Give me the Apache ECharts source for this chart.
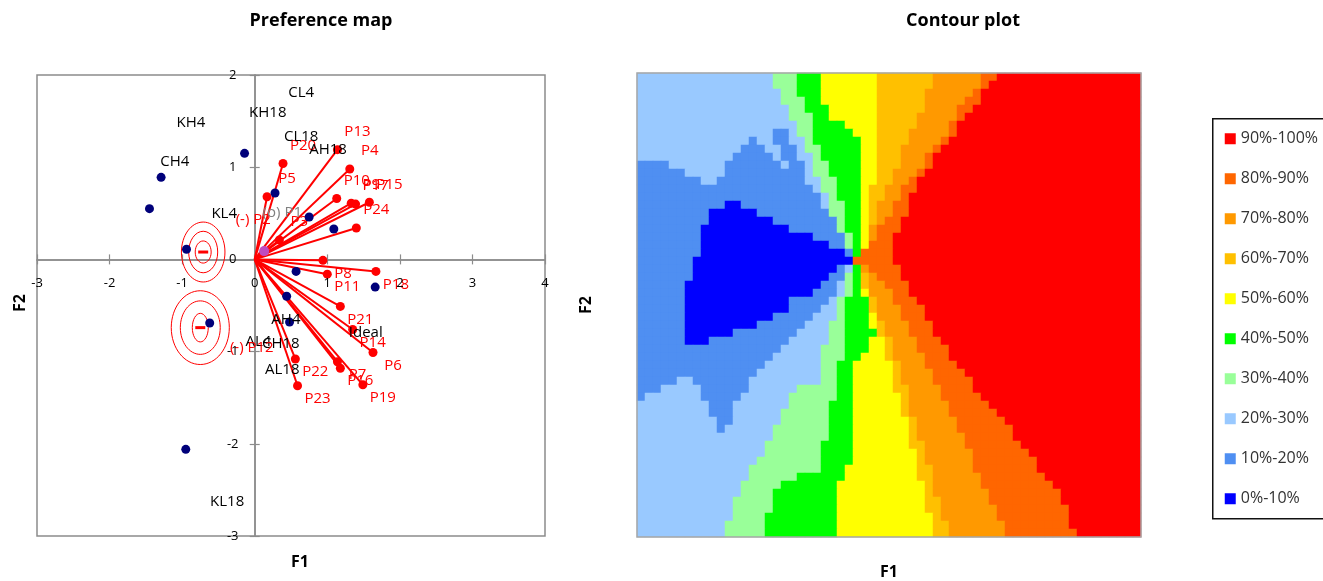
<!DOCTYPE html>
<html><head><meta charset="utf-8">
<script src="https://cdn.jsdelivr.net/npm/echarts@6/dist/echarts.min.js"></script>
<style>html,body{margin:0;padding:0;background:#fff}#c{width:1323px;height:581px}</style>
</head><body><div id="c"></div>
<script>
// ---------- Preference map data ----------
const prefNames = ['P13','P4','P20','P5','P10','P9','P17','P15','P24','P3','P8','P11','P18','P21','P14','P6','P22','P7','P16','P19','P23'];
const prefX = [1.14,1.31,0.39,0.17,1.13,1.33,1.39,1.58,1.40,0.34,0.94,1.00,1.67,1.18,1.35,1.63,0.56,1.14,1.18,1.49,0.59];
const prefY = [1.19,0.98,1.04,0.68,0.66,0.61,0.60,0.62,0.34,0.21,-0.01,-0.16,-0.13,-0.51,-0.76,-1.01,-1.08,-1.11,-1.18,-1.36,-1.37];

const prodX = [-0.14,-1.29,-1.45,-0.94,0.28,0.75,1.09,0.57,1.66,0.44,0.48,-0.62,-0.95];
const prodY = [1.15,0.89,0.55,0.11,0.72,0.46,0.33,-0.13,-0.30,-0.40,-0.68,-0.69,-2.06];

const prodLabels = ['KH4','CH4','KH18','CL4','CL18','AH18','KL4','AH4','AL4','CH18','AL18','KL18','Ideal'];
const prodLabelX = [-0.88,-1.10,0.18,0.64,0.64,1.01,-0.42,0.43,0.05,0.36,0.38,-0.38,1.53];
const prodLabelY = [1.48,1.06,1.59,1.81,1.33,1.19,0.49,-0.65,-0.89,-0.91,-1.20,-2.63,-0.80];

const saddleX = [0.13];
const saddleY = [0.09];

const specialLabels = ['(-) P2','(o) P1','(-) P12'];
const specialX = [-0.02,0.38,-0.04];
const specialY = [0.43,0.51,-0.96];

const minCenterX = [-0.71,-0.75];
const minCenterY = [0.08,-0.74];
const ringRx = [[0.30,0.20,0.11],[0.40,0.275,0.11]];
const ringRy = [[0.325,0.225,0.12],[0.40,0.29,0.155]];

const xTicks = [-3,-2,-1,0,1,2,3,4];
const yTicks = [-3,-2,-1,0,1,2];

// ---------- Contour plot data (class per cell, run-length encoded rows, top row first) ----------
const classLabels = ['0%-10%','10%-20%','20%-30%','30%-40%','40%-50%','50%-60%','60%-70%','70%-80%','80%-90%','90%-100%'];
const contourRows = [
'2:17,3:3,4:3,5:7,6:7,7:6,8:2,9:18',
'2:17,3:3,4:3,5:7,6:7,7:6,8:1,9:19',
'2:18,3:2,4:3,5:7,6:6,7:6,8:1,9:20',
'2:18,3:3,4:2,5:7,6:6,7:5,8:2,9:20',
'2:19,3:2,4:3,5:6,6:6,7:4,8:2,9:21',
'2:19,3:3,4:2,5:6,6:5,7:5,8:1,9:22',
'2:20,3:2,4:4,5:4,6:5,7:4,8:1,9:23',
'2:17,1:2,2:1,3:2,4:5,5:3,6:4,7:5,8:1,9:23',
'2:14,1:1,2:2,1:2,2:2,3:1,4:6,5:2,6:4,7:4,8:1,9:24',
'2:13,1:3,2:2,1:2,2:1,3:2,4:5,5:2,6:3,7:4,8:1,9:25',
'2:12,1:5,2:1,1:2,2:2,3:1,4:5,5:2,6:3,7:3,8:1,9:26',
'1:4,2:7,1:7,2:1,1:2,2:1,3:2,4:4,5:2,6:3,7:3,8:1,9:26',
'1:6,2:5,1:10,2:1,3:2,4:4,5:2,6:2,7:3,8:1,9:27',
'1:8,2:2,1:11,2:2,3:2,4:3,5:2,6:2,7:2,8:1,9:28',
'1:22,2:1,3:2,4:3,5:1,6:2,7:2,8:2,9:28',
'1:23,2:1,3:1,4:3,5:1,6:2,7:2,8:1,9:29',
'1:11,0:2,1:10,2:1,3:2,4:2,5:1,6:1,7:2,8:2,9:29',
'1:9,0:6,1:9,3:2,4:2,5:1,6:1,7:2,8:2,9:29',
'1:9,0:8,1:8,3:1,4:2,5:1,6:1,7:1,8:2,9:30',
'1:8,0:11,1:6,3:1,4:2,5:1,7:1,8:3,9:30',
'1:8,0:14,1:4,3:1,4:1,5:1,7:1,8:2,9:31',
'1:8,0:16,1:2,3:1,4:1,5:1,8:3,9:31',
'1:8,0:18,1:1,4:1,8:4,9:31',
'1:7,0:20,8:5,9:31',
'1:7,0:18,1:1,2:1,4:1,7:1,8:4,9:30',
'1:7,0:17,1:2,3:1,4:1,6:1,7:1,8:3,9:30',
'1:6,0:17,1:2,2:1,3:1,4:1,6:1,7:2,8:3,9:29',
'1:6,0:16,1:3,2:1,3:1,4:1,5:1,7:3,8:2,9:29',
'1:6,0:13,1:5,2:1,3:1,4:3,6:1,7:2,8:3,9:28',
'1:6,0:13,1:4,2:2,3:1,4:3,6:1,7:3,8:3,9:27',
'1:6,0:11,1:5,2:3,3:1,4:3,5:1,7:3,8:3,9:27',
'1:6,0:9,1:6,2:3,3:2,4:3,5:1,6:1,7:3,8:3,9:26',
'1:6,0:6,1:8,2:4,3:2,4:4,6:1,7:3,8:3,9:26',
'1:6,0:3,1:10,2:5,3:2,4:3,5:2,6:1,7:3,8:3,9:25',
'1:18,2:5,3:3,4:3,5:2,6:1,7:3,8:4,9:24',
'1:17,2:6,3:3,4:2,5:3,6:1,7:4,8:3,9:24',
'1:16,2:7,3:2,4:2,5:5,6:1,7:3,8:4,9:23',
'1:15,2:8,3:2,4:2,5:5,6:1,7:4,8:4,9:22',
'1:5,2:2,1:7,2:9,3:2,4:2,5:5,6:1,7:4,8:5,9:21',
'1:3,2:5,1:6,2:6,3:5,4:2,5:5,6:2,7:4,8:4,9:21',
'1:1,2:7,1:5,2:6,3:6,4:2,5:6,6:1,7:4,8:5,9:20',
'2:9,1:3,2:7,3:5,4:3,5:6,6:1,7:5,8:5,9:19',
'2:9,1:3,2:6,3:6,4:3,5:6,6:1,7:5,8:6,9:18',
'2:10,1:2,2:6,3:6,4:3,5:7,6:1,7:5,8:6,9:17',
'2:10,1:1,2:6,3:7,4:3,5:7,6:1,7:5,8:7,9:16',
'2:17,3:7,4:3,5:7,6:1,7:6,8:6,9:16',
'2:16,3:7,4:4,5:7,6:2,7:5,8:7,9:15',
'2:16,3:7,4:4,5:8,6:1,7:6,8:7,9:14',
'2:15,3:8,4:4,5:8,6:1,7:6,8:8,9:13',
'2:14,3:9,4:3,5:9,6:2,7:5,8:8,9:13',
'2:14,3:6,4:6,5:9,6:2,7:6,8:8,9:12',
'2:13,3:5,4:7,5:11,6:1,7:6,8:9,9:11',
'2:13,3:4,4:8,5:11,6:1,7:7,8:9,9:10',
'2:12,3:5,4:8,5:11,6:2,7:6,8:9,9:10',
'2:12,3:5,4:8,5:11,6:2,7:7,8:9,9:9',
'2:12,3:4,4:9,5:12,6:1,7:7,8:9,9:9',
'2:11,3:5,4:9,5:12,6:2,7:7,8:8,9:9',
'2:11,3:5,4:9,5:12,6:2,7:7,8:9,9:8'
];

// ---------- styles ----------
const FONT = '"Open Sans", "DejaVu Sans", sans-serif';
const classColors = ['#0000ff','#4f8ff2','#99c9ff','#99ff99','#00ff00','#ffff00','#ffc000','#ff9900','#ff6600','#ff0000'];
const RED = '#ff0000', NAVY = '#00007a', AXIS = '#8c8c8c';
const CLEAR = 'rgba(0,0,0,0)';

// decode contour rows
const heatData = [];
let nCols = 0;
contourRows.forEach((row, r) => {
  let c = 0;
  row.split(',').forEach(run => {
    const [v, n] = run.split(':').map(Number);
    for (let k = 0; k < n; k++) { heatData.push([c, r, v]); c++; }
  });
  nCols = Math.max(nCols, c);
});
const nRows = contourRows.length;
const colCats = Array.from({length: nCols}, (_, i) => String(i));
const rowCats = Array.from({length: nRows}, (_, i) => String(i));

const chart = echarts.init(document.getElementById('c'), null, {renderer: 'canvas'});

const prefData = prefNames.map((n, i) => ({
  name: n, value: [prefX[i], prefY[i]],
  label: {offset: [20, prefY[i] >= 0 ? -18 : 13]}
}));
const lineData = prefNames.map((n, i) => ({coords: [[0, 0], [prefX[i], prefY[i]]]}));
const prodData = prodX.map((x, i) => [x, prodY[i]]);
const prodLabelData = prodLabels.map((n, i) => ({name: n, value: [prodLabelX[i], prodLabelY[i]]}));
const specialData = specialLabels.map((n, i) => ({
  name: n, value: [specialX[i], specialY[i]],
  label: {color: n.indexOf('(o)') === 0 ? '#808080' : RED}
}));
const ringData = [];
minCenterX.forEach((cx, i) => {
  ringRx[i].forEach((rx, j) => ringData.push([cx, minCenterY[i], rx, ringRy[i][j]]));
});
const minData = minCenterX.map((x, i) => [x, minCenterY[i]]);
const xTickData = xTicks.map(t => ({name: String(t), value: [t, 0], label: {offset: [0, 24]}}));
const yTickData = yTicks.map(t => ({name: String(t), value: [0, t], label: {offset: [-22, 0]}}));

function valueAxis(ticks, inside) {
  return {type: 'value', gridIndex: 0, min: ticks[0], max: ticks[ticks.length - 1], interval: 1,
    axisLine: {onZero: true, lineStyle: {color: AXIS, width: 1.5}},
    axisTick: {show: true, inside: inside, length: 5, lineStyle: {color: AXIS, width: 1.2}},
    axisLabel: {show: false}, splitLine: {show: false}};
}

const option = {
  animation: false,
  backgroundColor: '#fff',
  textStyle: {fontFamily: FONT},
  grid: [
    {left: 37, top: 75, width: 508, height: 461, show: true, borderColor: AXIS, borderWidth: 1.5, backgroundColor: 'transparent'},
    {left: 637, top: 73, width: nCols * 8, height: nRows * 8, show: false}
  ],
  xAxis: [
    valueAxis(xTicks, false),
    {type: 'category', gridIndex: 1, data: colCats, show: false},
    Object.assign(valueAxis(xTicks, true), {position: 'bottom'})
  ],
  yAxis: [
    valueAxis(yTicks, false),
    {type: 'category', gridIndex: 1, data: rowCats, inverse: true, show: false},
    Object.assign(valueAxis(yTicks, true), {position: 'left'})
  ],
  visualMap: {
    type: 'piecewise', seriesIndex: 8, dimension: 2,
    pieces: classLabels.map((l, i) => ({value: i, label: l, color: classColors[i]})),
    orient: 'vertical', left: 1212, top: 118, align: 'left',
    itemWidth: 11, itemHeight: 11, itemGap: 24, itemSymbol: 'rect', textGap: 5,
    textStyle: {fontSize: 16, color: '#333', fontFamily: FONT},
    borderColor: '#111', borderWidth: 1.5, padding: [12, 60, 12, 12],
    backgroundColor: '#fff', selectedMode: false, hoverLink: false
  },
  series: [
    {type: 'lines', coordinateSystem: 'cartesian2d', xAxisIndex: 0, yAxisIndex: 0,
     data: lineData, lineStyle: {color: RED, width: 2, opacity: 1}, silent: true, z: 2},
    {type: 'custom', xAxisIndex: 0, yAxisIndex: 0, data: ringData, encode: {x: 0, y: 1}, z: 2, silent: true,
     renderItem: function (params, api) {
       const c = api.coord([api.value(0), api.value(1)]);
       const s = api.size([api.value(2), api.value(3)]);
       return {type: 'ellipse', shape: {cx: c[0], cy: c[1], rx: s[0], ry: s[1]},
               style: {fill: 'none', stroke: RED, lineWidth: 1}};
     }},
    {type: 'scatter', xAxisIndex: 0, yAxisIndex: 0, data: minData, symbol: 'rect', symbolSize: [10, 3],
     itemStyle: {color: RED, opacity: 1}, z: 3, silent: true},
    {type: 'scatter', xAxisIndex: 0, yAxisIndex: 0, data: prefData, symbolSize: 9,
     itemStyle: {color: RED, opacity: 1}, z: 4, silent: true,
     label: {show: true, position: 'inside', formatter: '{b}', color: RED, fontSize: 15, fontFamily: FONT}},
    {type: 'scatter', xAxisIndex: 0, yAxisIndex: 0, data: prodData, symbolSize: 9,
     itemStyle: {color: NAVY, opacity: 1}, z: 5, silent: true},
    {type: 'scatter', xAxisIndex: 0, yAxisIndex: 0, data: saddleX.map((x, i) => [x, saddleY[i]]), symbolSize: 10,
     itemStyle: {color: '#c04ac0', opacity: 1}, z: 5, silent: true},
    {type: 'scatter', xAxisIndex: 0, yAxisIndex: 0, data: prodLabelData.concat(specialData), symbolSize: 2,
     itemStyle: {color: CLEAR, opacity: 1}, z: 6, silent: true,
     label: {show: true, position: 'inside', formatter: '{b}', color: '#000', textBorderWidth: 0, fontSize: 15, fontFamily: FONT}},
    {type: 'scatter', xAxisIndex: 0, yAxisIndex: 0, data: xTickData.concat(yTickData), symbolSize: 2,
     itemStyle: {color: CLEAR, opacity: 1}, z: 6, silent: true,
     label: {show: true, position: 'inside', formatter: '{b}', color: '#000', textBorderWidth: 0, fontSize: 13, fontFamily: FONT}},
    {type: 'heatmap', xAxisIndex: 1, yAxisIndex: 1, data: heatData, progressive: 0,
     itemStyle: {borderWidth: 0}, emphasis: {disabled: true}, silent: true}
  ],
  graphic: [
    {type: 'text', x: 321, y: 21, style: {text: 'Preference map', fontSize: 18, fontWeight: 'bold', fontFamily: FONT, fill: '#000', align: 'center', verticalAlign: 'middle'}},
    {type: 'text', x: 963, y: 21, style: {text: 'Contour plot', fontSize: 18, fontWeight: 'bold', fontFamily: FONT, fill: '#000', align: 'center', verticalAlign: 'middle'}},
    {type: 'text', x: 300, y: 562, style: {text: 'F1', fontSize: 16, fontWeight: 'bold', fontFamily: FONT, fill: '#000', align: 'center', verticalAlign: 'middle'}},
    {type: 'text', x: 889, y: 572, style: {text: 'F1', fontSize: 16, fontWeight: 'bold', fontFamily: FONT, fill: '#000', align: 'center', verticalAlign: 'middle'}},
    {type: 'text', x: 20, y: 303, rotation: Math.PI / 2, style: {text: 'F2', fontSize: 16, fontWeight: 'bold', fontFamily: FONT, fill: '#000', align: 'center', verticalAlign: 'middle'}},
    {type: 'text', x: 586, y: 305, rotation: Math.PI / 2, style: {text: 'F2', fontSize: 16, fontWeight: 'bold', fontFamily: FONT, fill: '#000', align: 'center', verticalAlign: 'middle'}},
    {type: 'rect', z: 100, shape: {x: 637, y: 73, width: nCols * 8, height: nRows * 8}, style: {fill: 'none', stroke: '#a6a6a6', lineWidth: 1.5}}
  ]
};
chart.setOption(option);
</script>
</body></html>
